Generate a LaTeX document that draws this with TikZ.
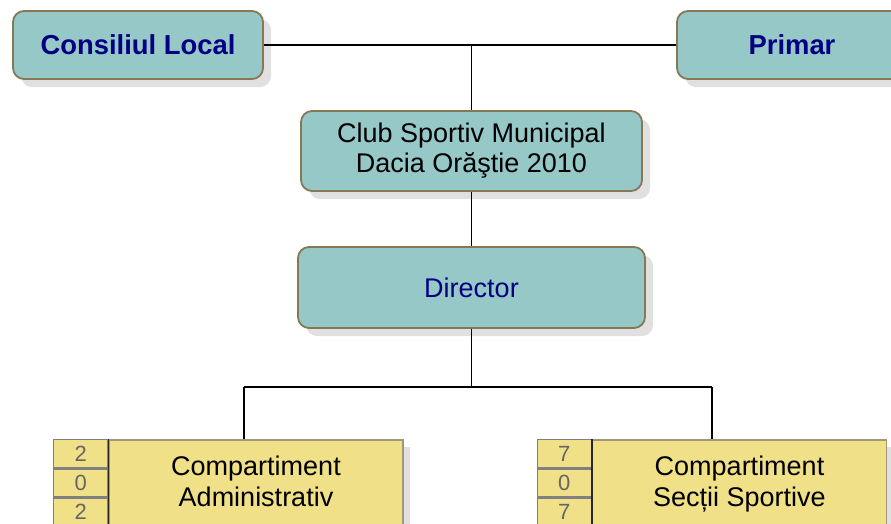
\documentclass[tikz,border=0pt]{standalone}
\usepackage{fontspec}
\setmainfont{Liberation Sans}
\usetikzlibrary{positioning,shadows}
\definecolor{tealbox}{RGB}{150,200,200}
\definecolor{tealline}{RGB}{135,120,85}
\definecolor{yellowbox}{RGB}{240,224,136}
\definecolor{yellowline}{RGB}{160,152,120}
\definecolor{navytext}{RGB}{0,0,128}
\begin{document}
\begin{tikzpicture}[x=1pt,y=-1pt]
			\tikzstyle{box} = [draw=tealline, line width=1.8pt, fill=tealbox, rounded corners=11pt, align=center, font=\fontsize{27}{30}\selectfont, drop shadow={shadow xshift=8pt, shadow yshift=-8pt, fill=black!12, opacity=1}]
			\tikzstyle{comp} = [draw=yellowline, line width=1.5pt, fill=yellowbox, align=center, minimum width=294, minimum height=90, font=\fontsize{27}{31}\selectfont, drop shadow={shadow xshift=7pt, shadow yshift=-7pt, fill=black!12, opacity=1}]
			\tikzstyle{cell} = [draw=gray, line width=1.2pt, fill=yellowbox, minimum width=54, minimum height=28, inner sep=0pt, text=black!60, font=\fontsize{22}{22}\selectfont]
			\useasboundingbox (0,0) rectangle (891,523);
			\clip (0,0) rectangle (891,523);

			\node [box, minimum width=250, minimum height=68, text=navytext, font=\fontsize{27.4}{30}\selectfont\bfseries] (cons) at (138,45) {Consiliul Local};
			\node [box, minimum width=230, minimum height=68, text=navytext, font=\fontsize{27.4}{30}\selectfont\bfseries] (prim) at (792,45) {Primar};
			\node [box, minimum width=341, minimum height=80] (club) at (471.5,151) {Club Sportiv Municipal\\Dacia Orăştie 2010};
			\node [box, minimum width=347, minimum height=81, text=navytext] (dir) at (471.5,287.5) {Director};

			\node [comp] (adm) at (256,485) {\strut Compartiment\\Administrativ\strut};
			\node [cell, anchor=north east] (adm1) at (adm.north west) {2};
			\node [cell, below=0pt of adm1] (adm2) {0};
			\node [cell, below=0pt of adm2] (adm3) {2};
			\draw [line width=1.5pt, black!85] (adm.north west) -- (adm.south west);

			\node [comp] (sec) at (739.5,485) {\strut Compartiment\\Secții Sportive\strut};
			\node [cell, anchor=north east] (sec1) at (sec.north west) {7};
			\node [cell, below=0pt of sec1] (sec2) {0};
			\node [cell, below=0pt of sec2] (sec3) {7};
			\draw [line width=1.5pt, black!85] (sec.north west) -- (sec.south west);

			\coordinate (bus) at (471.5,387);
			\coordinate (lft) at (244,387);
			\coordinate (rgt) at (712,387);

			\draw [line width=1.3pt] (cons.east) -- (prim.west);
			\draw [line width=1.3pt] (club.north) -- (club.north |- cons.east);
			\draw [line width=1.3pt] (club.south) -- (dir.north);
			\draw [line width=1.3pt] (dir.south) -- (bus);
			\draw [line width=1.3pt] (lft) -- (rgt);
			\draw [line width=1.3pt] (lft) -- (lft |- adm.north);
			\draw [line width=1.3pt] (rgt) -- (rgt |- sec.north);

		\end{tikzpicture}
\end{document}
